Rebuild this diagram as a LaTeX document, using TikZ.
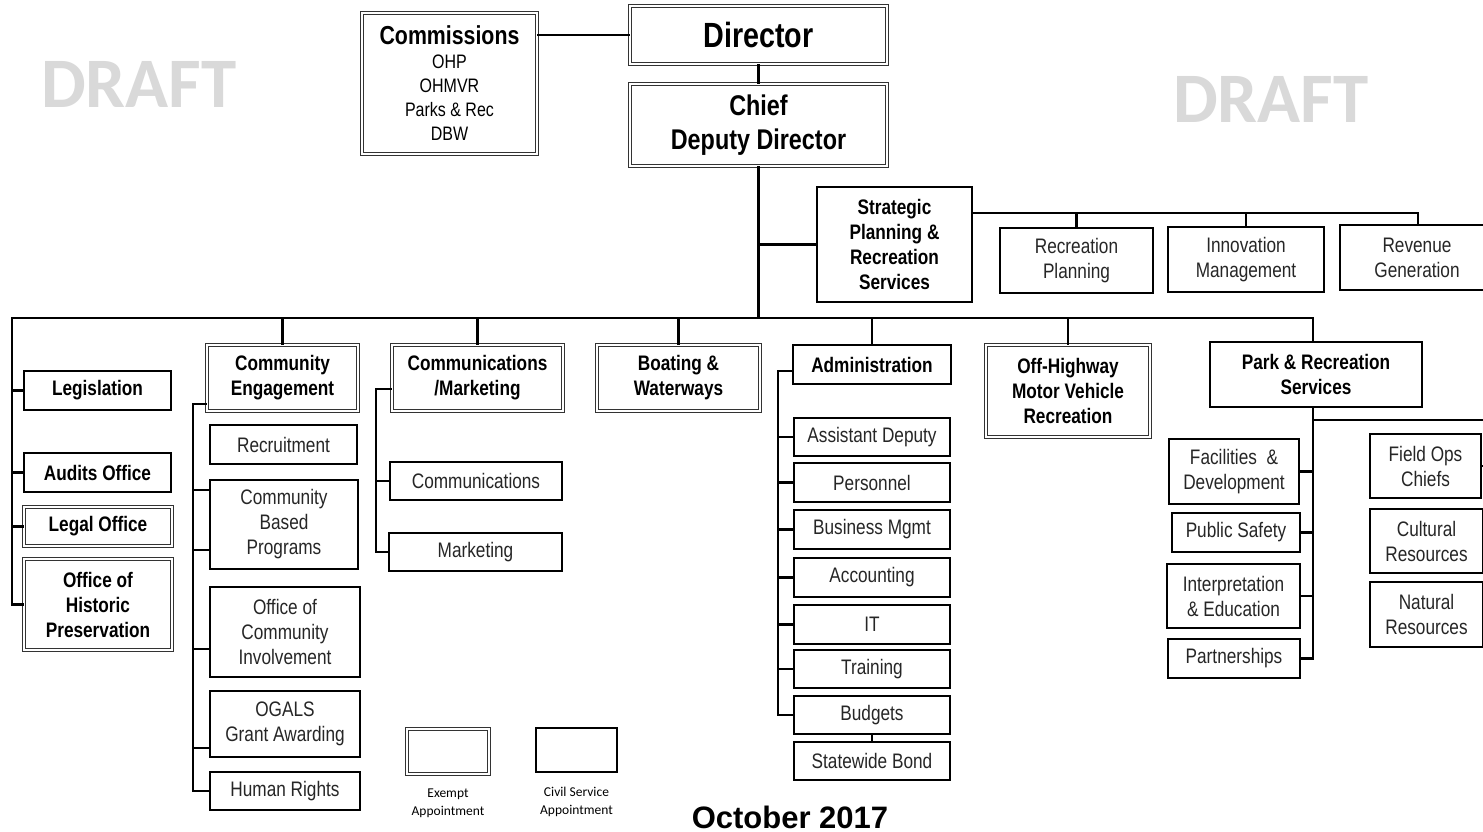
\documentclass[tikz,border=0pt]{standalone}
\usepackage{fontspec}
\setmainfont{Liberation Sans}[FakeStretch=0.82]
\newfontfamily\draftfont{Carlito}
\newfontfamily\datefont{Liberation Sans}
\definecolor{draftgray}{RGB}{217,217,217}
\begin{document}
\begin{tikzpicture}[x=1pt,y=-1pt,
  sbox/.style={draw, line width=1.8pt, inner sep=0pt, align=center, fill=white,
    font=\fontsize{21}{25}\selectfont, text=black!85},
  dbox/.style={draw=black!80, double=white, double distance=1.6pt, line width=0.9pt,
    inner sep=0pt, align=center, fill=white, font=\fontsize{21}{25}\selectfont\bfseries},
  bld/.style={font=\fontsize{21}{25}\selectfont\bfseries, text=black},
  conn/.style={line width=2.1pt, line join=miter},
  draftlbl/.style={font=\draftfont\fontsize{71}{71}\selectfont\bfseries, text=draftgray},
  legtxt/.style={font=\draftfont\fontsize{13.5}{18}\selectfont, align=center, inner sep=0pt}]
\useasboundingbox (0,0) rectangle (1483,832);
\fill[white] (0,0) rectangle (1483,832);

% watermarks
\node[draftlbl] (draftL) at (139,84) {DRAFT};
\node[draftlbl] (draftR) at (1271,99) {DRAFT};

% top
\node[dbox, minimum width=175pt, minimum height=141pt, font=\fontsize{19.5}{24}\selectfont] (comm) at (449.5,83.5)
  {{\fontsize{26}{26}\selectfont\bfseries Commissions}\\OHP\\OHMVR\\Parks \& Rec\\DBW};
\node[dbox, minimum width=257pt, minimum height=58pt, font=\fontsize{35}{35}\selectfont\bfseries] (dir) at (758.5,35) {Director};
\node[dbox, minimum width=257pt, minimum height=82pt, font=\fontsize{28.5}{34}\selectfont\bfseries] (cdd) at (758.5,125) {Chief\\Deputy Director};

\node[sbox, bld, minimum width=155pt, minimum height=115pt] (sprs) at (894.5,244.5) {Strategic\\Planning \&\\Recreation\\Services};
\node[sbox, minimum width=153pt, minimum height=65pt] (recp) at (1076.5,260.5) {Recreation\\Planning};
\node[sbox, minimum width=156pt, minimum height=65pt] (innov) at (1246,259.5) {Innovation\\Management};
\node[sbox, minimum width=154pt, minimum height=65pt] (revg) at (1417,257.5) {Revenue\\Generation};

% left column
\node[sbox, bld, minimum width=147pt, minimum height=39pt] (leg) at (97.5,390.5) {Legislation};
\node[sbox, bld, minimum width=147pt, minimum height=39pt] (aud) at (97.5,472.5) {Audits Office};
\node[dbox, minimum width=148pt, minimum height=39pt] (legal) at (98,526.5) {Legal Office};
\node[dbox, minimum width=148pt, minimum height=91pt] (ohp) at (98,604.5) {Office of\\Historic\\Preservation};

% community engagement
\node[dbox, minimum width=151pt, minimum height=66pt] (ce) at (282.5,378) {Community\\Engagement};
\node[sbox, minimum width=147pt, minimum height=39pt] (rec) at (283.5,444.5) {Recruitment};
\node[sbox, minimum width=148pt, minimum height=89pt] (cbp) at (284,524.5) {Community\\Based\\Programs};
\node[sbox, minimum width=150pt, minimum height=90pt] (oci) at (285,632) {Office of\\Community\\Involvement};
\node[sbox, minimum width=150pt, minimum height=66pt] (ogals) at (285,724) {OGALS\\Grant Awarding};
\node[sbox, minimum width=150pt, minimum height=38pt] (hr) at (285,791) {Human Rights};

% communications
\node[dbox, minimum width=171pt, minimum height=66pt] (cm) at (477.5,378) {Communications\\/Marketing};
\node[sbox, minimum width=172pt, minimum height=38pt] (comms) at (476,481) {Communications};
\node[sbox, minimum width=173pt, minimum height=38pt] (mkt) at (475.5,552) {Marketing};

% boating
\node[dbox, minimum width=163pt, minimum height=66pt] (bw) at (678.5,378) {Boating \&\\Waterways};

% administration
\node[sbox, bld, minimum width=158pt, minimum height=39pt] (adm) at (872,364.5) {Administration};
\node[sbox, minimum width=156pt, minimum height=38pt] (ad) at (872,437) {Assistant Deputy};
\node[sbox, minimum width=156pt, minimum height=39pt] (pers) at (872,482.5) {Personnel};
\node[sbox, minimum width=156pt, minimum height=39pt] (bm) at (872,529.5) {Business Mgmt};
\node[sbox, minimum width=156pt, minimum height=39pt] (acc) at (872,577.5) {Accounting};
\node[sbox, minimum width=156pt, minimum height=39pt] (it) at (872,624.5) {IT};
\node[sbox, minimum width=156pt, minimum height=38pt] (trn) at (872,669) {Training};
\node[sbox, minimum width=156pt, minimum height=38pt] (bud) at (872,715) {Budgets};
\node[sbox, minimum width=156pt, minimum height=38pt] (swb) at (872,761) {Statewide Bond};

% OHMVR
\node[dbox, minimum width=164pt, minimum height=92pt] (ohv) at (1068,391) {Off-Highway\\Motor Vehicle\\Recreation};

% park & recreation
\node[sbox, bld, minimum width=212pt, minimum height=65pt] (prs) at (1316,374.5) {Park \& Recreation\\Services};
\node[sbox, minimum width=130pt, minimum height=65pt] (fac) at (1234,471.5) {Facilities~ \&\\Development};
\node[sbox, minimum width=128pt, minimum height=39pt] (ps) at (1236,532.5) {Public Safety};
\node[sbox, minimum width=133pt, minimum height=64pt] (ie) at (1233.5,596) {Interpretation\\\& Education};
\node[sbox, minimum width=132pt, minimum height=39pt] (part) at (1234,658.5) {Partnerships};
\node[sbox, minimum width=111pt, minimum height=64pt] (fops) at (1425.5,466) {Field Ops\\Chiefs};
\node[sbox, minimum width=113pt, minimum height=64pt] (cult) at (1426.5,541) {Cultural\\Resources};
\node[sbox, minimum width=113pt, minimum height=65pt] (nat) at (1426.5,614.5) {Natural\\Resources};

% legend
\node[dbox, minimum width=82pt, minimum height=45pt] (exb) at (448,751.5) {};
\node[sbox, minimum width=81pt, minimum height=44pt] (csb) at (576.5,750) {};
\node[legtxt] (exl) at (448,803) {Exempt\\Appointment};
\node[legtxt] (csl) at (576.5,802) {Civil Service\\Appointment};
\node[font=\datefont\fontsize{31}{31}\selectfont\bfseries, inner sep=0pt, anchor=base] (date) at (790,828) {October 2017};

% coordinates
\coordinate (busL) at (12,318);
\coordinate (busR) at (1313,318);
\coordinate (sbus) at (1418,213);
\coordinate (ceS) at (193,404);
\coordinate (cmS) at (376,389);
\coordinate (adS) at (778,371);
\coordinate (prS) at (1313,420);
\coordinate (prE) at (1500,420);
\coordinate (foE) at (1500,466);

% connectors
\draw[conn] (dir.west) -- (dir.west -| comm.east);
\draw[conn] (dir.south) -- (cdd.north);
\draw[conn] (cdd.south) -- (cdd.south |- busL);
\draw[conn] (sprs.west) -- (sprs.west -| cdd.south);
\draw[conn] (sbus -| sprs.east) -- (sbus) -- (revg.north -| sbus);
\draw[conn] (recp.north) -- (recp.north |- sbus);
\draw[conn] (innov.north) -- (innov.north |- sbus);

\draw[conn] (ohp.west) -- (ohp.west -| busL) -- (busL) -- (busR) -- (prs.north -| busR);
\foreach \n in {leg,aud,legal} \draw[conn] (\n.west) -- (\n.west -| busL);
\foreach \n in {ce,cm,bw,adm,ohv} \draw[conn] (\n.north) -- (\n.north |- busL);

\draw[conn] (ceS -| ce.west) -- (ceS) -- (ceS |- hr.west) -- (hr.west);
\draw[conn] ([yshift=34.5pt]cbp.west) -- ([yshift=34.5pt]cbp.west -| ceS);
\draw[conn] ([yshift=-25.5pt]cbp.west) -- ([yshift=-25.5pt]cbp.west -| ceS);
\draw[conn] ([yshift=-17pt]oci.west) -- ([yshift=-17pt]oci.west -| ceS);
\draw[conn] ([yshift=-24pt]ogals.west) -- ([yshift=-24pt]ogals.west -| ceS);

\draw[conn] (cmS -| cm.west) -- (cmS) -- (cmS |- mkt.west) -- (mkt.west);
\draw[conn] (comms.west) -- (comms.west -| cmS);

\draw[conn] (adS -| adm.west) -- (adS) -- (adS |- bud.west) -- (bud.west);
\foreach \n in {ad,pers,bm,acc,it,trn} \draw[conn] (\n.west) -- (\n.west -| adS);
\draw[conn] (bud.south) -- (swb.north);

\draw[conn] (prs.south -| prS) -- (prS |- part.east) -- (part.east);
\draw[conn] (prS) -- (prE);
\foreach \n in {fac,ps,ie} \draw[conn] (\n.east) -- (\n.east -| prS);
\draw[conn] (fops.east) -- (foE);
\end{tikzpicture}
\end{document}
